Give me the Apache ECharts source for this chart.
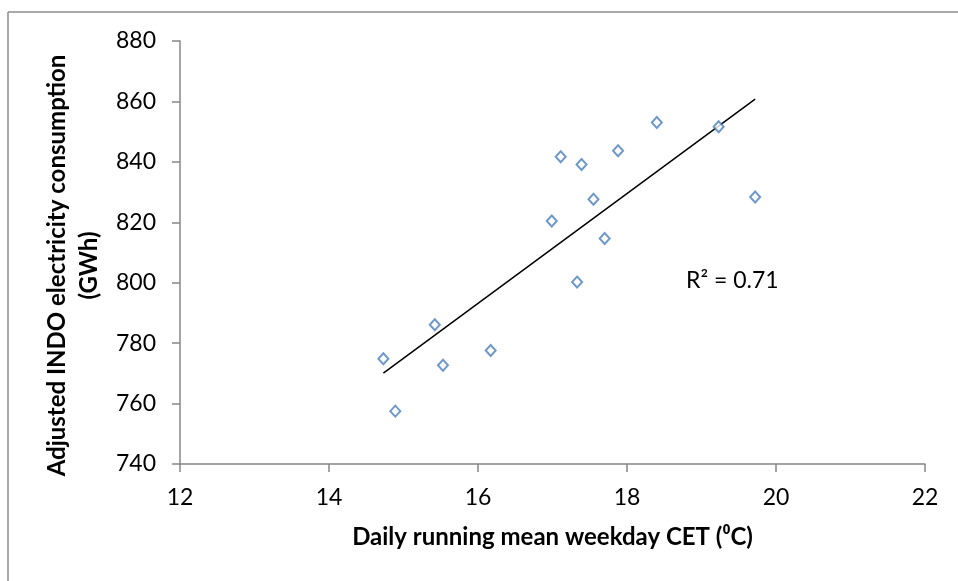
<!DOCTYPE html>
<html>
<head>
<meta charset="utf-8">
<script src="https://cdn.jsdelivr.net/npm/echarts@6/dist/echarts.min.js"></script>
<style>
  html, body { margin: 0; padding: 0; background: #fff; }
  #chart { width: 958px; height: 581px; }
</style>
</head>
<body>
<div id="chart"></div>
<script>
// Daily running mean weekday CET (°C)
const temperature = [14.73, 14.89, 15.42, 15.53, 16.17, 16.99, 17.11, 17.33, 17.39, 17.55, 17.70, 17.88, 18.40, 19.23, 19.72];
// Adjusted INDO electricity consumption (GWh)
const consumption = [774.8, 757.5, 786.1, 772.7, 777.6, 820.4, 841.7, 800.2, 839.1, 827.6, 814.6, 843.7, 853.0, 851.6, 828.4];

const xTicks = [12, 14, 16, 18, 20, 22];
const yTicks = [740, 760, 780, 800, 820, 840, 860, 880];
const r2Text = 'R² = 0.71';

// Least-squares linear fit over the observed temperature range
const n = temperature.length;
const mx = temperature.reduce((a, b) => a + b, 0) / n;
const my = consumption.reduce((a, b) => a + b, 0) / n;
let sxy = 0, sxx = 0;
for (let i = 0; i < n; i++) {
  sxy += (temperature[i] - mx) * (consumption[i] - my);
  sxx += (temperature[i] - mx) * (temperature[i] - mx);
}
const slope = sxy / sxx;
const intercept = my - slope * mx;
const xMin = Math.min(...temperature), xMax = Math.max(...temperature);
const trend = [[xMin, intercept + slope * xMin], [xMax, intercept + slope * xMax]];

const chart = echarts.init(document.getElementById('chart'));
const font = 'Lato, "Open Sans", sans-serif';
const axisGray = '#878787';

chart.setOption({
  animation: false,
  backgroundColor: '#fff',
  grid: { left: 180, right: 33, top: 41, bottom: 117 },
  graphic: [
    { type: 'line', shape: { x1: 8, y1: 12, x2: 958, y2: 12 }, style: { stroke: '#8c8c8c', lineWidth: 1.5 } },
    { type: 'line', shape: { x1: 8, y1: 12, x2: 8, y2: 581 }, style: { stroke: '#8c8c8c', lineWidth: 1.5 } },
    {
      type: 'text', left: 686, top: 269,
      style: { text: r2Text, font: '23px ' + font, fill: '#000' }
    }
  ],
  xAxis: {
    type: 'value',
    min: xTicks[0], max: xTicks[xTicks.length - 1], interval: 2,
    name: 'Daily running mean weekday CET (⁰C)',
    nameLocation: 'middle', nameGap: 61,
    nameTextStyle: { fontFamily: font, fontWeight: 'bold', fontSize: 24, color: '#000' },
    axisLine: { show: true, onZero: false, lineStyle: { color: axisGray, width: 1.5 } },
    axisTick: { show: true, inside: false, length: 8, lineStyle: { color: axisGray, width: 1.5 } },
    axisLabel: { fontFamily: font, fontSize: 23, color: '#000', margin: 22 },
    splitLine: { show: false }
  },
  yAxis: {
    type: 'value',
    min: yTicks[0], max: yTicks[yTicks.length - 1], interval: 20,
    name: 'Adjusted INDO electricity consumption\n(GWh)',
    nameLocation: 'middle', nameGap: 75, nameRotate: 90,
    nameTextStyle: {
      fontFamily: font, fontWeight: 'bold', fontSize: 24, color: '#000',
      lineHeight: 32, padding: [0, 26, 0, 0]
    },
    axisLine: { show: true, onZero: false, lineStyle: { color: axisGray, width: 1.5 } },
    axisTick: { show: true, inside: false, length: 8, lineStyle: { color: axisGray, width: 1.5 } },
    axisLabel: { fontFamily: font, fontSize: 23, color: '#000', margin: 24 },
    splitLine: { show: false }
  },
  series: [
    {
      type: 'line',
      data: trend,
      symbol: 'none',
      lineStyle: { color: '#000', width: 1.5 },
      silent: true,
      z: 1
    },
    {
      type: 'scatter',
      data: temperature.map((t, i) => [t, consumption[i]]),
      symbol: 'diamond',
      symbolSize: [10, 11],
      itemStyle: { color: '#fff', borderColor: '#4a7ebb', borderWidth: 2 },
      z: 3
    }
  ]
});
</script>
</body>
</html>
